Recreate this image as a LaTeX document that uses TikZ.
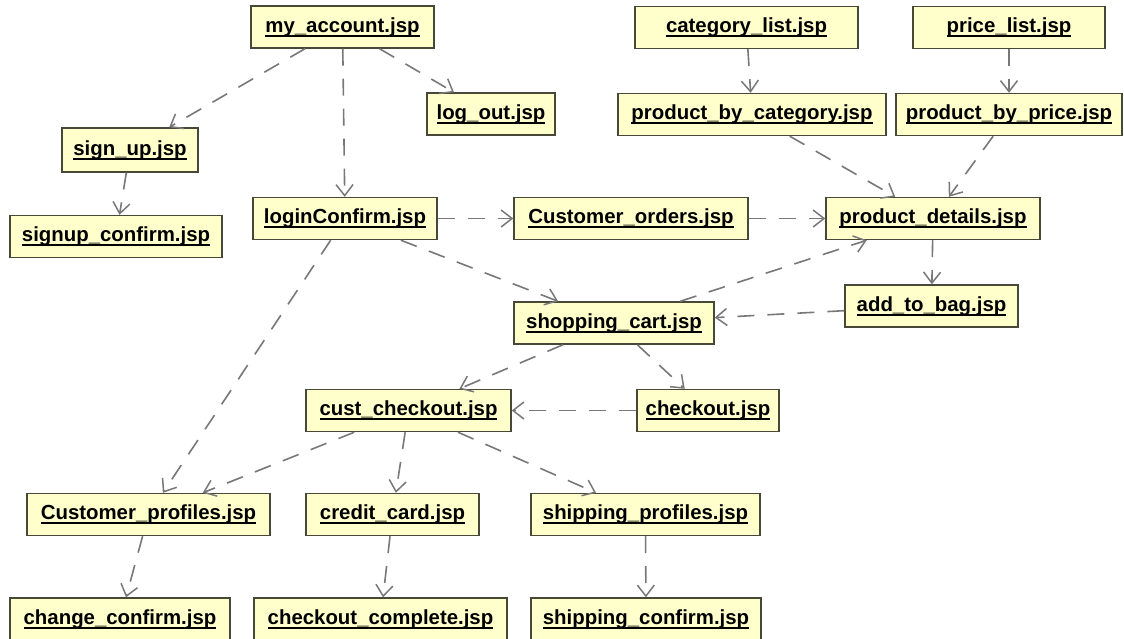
\documentclass[tikz,border=0pt]{standalone}
\usepackage{fontspec}
\setmainfont{Liberation Sans}
\usetikzlibrary{arrows.meta}
\definecolor{boxfill}{RGB}{255,255,204}
\definecolor{boxline}{RGB}{72,72,56}
\definecolor{edgecol}{RGB}{120,120,120}
\newcommand\jsp[1]{\setbox0=\hbox{#1}\dp0=0pt\vtop{\box0\kern2.4pt\hrule height1.9pt}}
\tikzset{
  jspbox/.style={draw=boxline, line width=1.4pt, fill=boxfill, minimum height=42pt, inner sep=0pt,
    font=\bfseries\fontsize{20.4}{24}\selectfont},
  dep/.style={draw=edgecol, line width=1.6pt, dash pattern=on 17pt off 13pt,
    -{Straight Barb[length=11pt,width=17pt,line width=1.5pt]}}
}
\begin{document}
\begin{tikzpicture}[x=1pt,y=-1pt]
\fill[white] (0,0) rectangle (1124,638);
\useasboundingbox (0,0) rectangle (1124,638);
% nodes
\node[jspbox, minimum width=183pt] (myacc) at (342.5,27) {\jsp{my\_account.jsp}};
\node[jspbox, minimum width=128pt] (logout) at (491,114) {\jsp{log\_out.jsp}};
\node[jspbox, minimum width=136pt, minimum height=44pt] (signup) at (130,150) {\jsp{sign\_up.jsp}};
\node[jspbox, minimum width=212pt] (signupc) at (116,236.5) {\jsp{signup\_confirm.jsp}};
\node[jspbox, minimum width=184pt] (login) at (345,218.5) {\jsp{loginConfirm.jsp}};
\node[jspbox, minimum width=234pt] (corders) at (631,218.5) {\jsp{Customer\_orders.jsp}};
\node[jspbox, minimum width=214pt] (pdetails) at (933,218.5) {\jsp{product\_details.jsp}};
\node[jspbox, minimum width=223pt] (catlist) at (746.5,27.5) {\jsp{category\_list.jsp}};
\node[jspbox, minimum width=192pt] (pricelist) at (1009,27.5) {\jsp{price\_list.jsp}};
\node[jspbox, minimum width=268pt] (pbycat) at (752,114.5) {\jsp{product\_by\_category.jsp}};
\node[jspbox, minimum width=226pt] (pbyprice) at (1009,114.5) {\jsp{product\_by\_price.jsp}};
\node[jspbox, minimum width=173pt] (addbag) at (931.5,306) {\jsp{add\_to\_bag.jsp}};
\node[jspbox, minimum width=200pt] (cart) at (614,323) {\jsp{shopping\_cart.jsp}};
\node[jspbox, minimum width=142pt] (checkout) at (708,410.5) {\jsp{checkout.jsp}};
\node[jspbox, minimum width=205pt] (custcheck) at (408.5,410.5) {\jsp{cust\_checkout.jsp}};
\node[jspbox, minimum width=243pt] (cprof) at (148.5,514.5) {\jsp{Customer\_profiles.jsp}};
\node[jspbox, minimum width=173pt] (ccard) at (392.5,514.5) {\jsp{credit\_card.jsp}};
\node[jspbox, minimum width=229pt] (sprof) at (645.5,514.5) {\jsp{shipping\_profiles.jsp}};
\node[jspbox, minimum width=220pt, minimum height=43pt] (chconf) at (120,619.5) {\jsp{change\_confirm.jsp}};
\node[jspbox, minimum width=253pt, minimum height=43pt] (ckcomplete) at (380.5,619.5) {\jsp{checkout\_complete.jsp}};
\node[jspbox, minimum width=230pt, minimum height=43pt] (shconf) at (646,619.5) {\jsp{shipping\_confirm.jsp}};
% connectors
\draw[dep] (myacc) -- (signup);
\draw[dep] (myacc) -- (login);
\draw[dep] (myacc) -- (logout);
\draw[dep] (signup) -- (signupc);
\draw[dep] (catlist) -- (pbycat);
\draw[dep] (pricelist) -- (pbyprice);
\draw[dep] (pbycat) -- (pdetails);
\draw[dep] (pbyprice) -- (pdetails);
\draw[dep] (login) -- (corders);
\draw[dep] (corders) -- (pdetails);
\draw[dep] (login) -- (cart);
\draw[dep] (cart) -- (pdetails);
\draw[dep] (pdetails) -- (addbag);
\draw[dep] (addbag) -- (cart);
\draw[dep] (cart) -- (custcheck);
\draw[dep] (cart) -- (checkout);
\draw[dep] (checkout) -- (custcheck);
\draw[dep] (login) -- (cprof);
\draw[dep] (custcheck) -- (cprof);
\draw[dep] (custcheck) -- (ccard);
\draw[dep] (custcheck) -- (sprof);
\draw[dep] (cprof) -- (chconf);
\draw[dep] (ccard) -- (ckcomplete);
\draw[dep] (sprof) -- (shconf);
\end{tikzpicture}
\end{document}
